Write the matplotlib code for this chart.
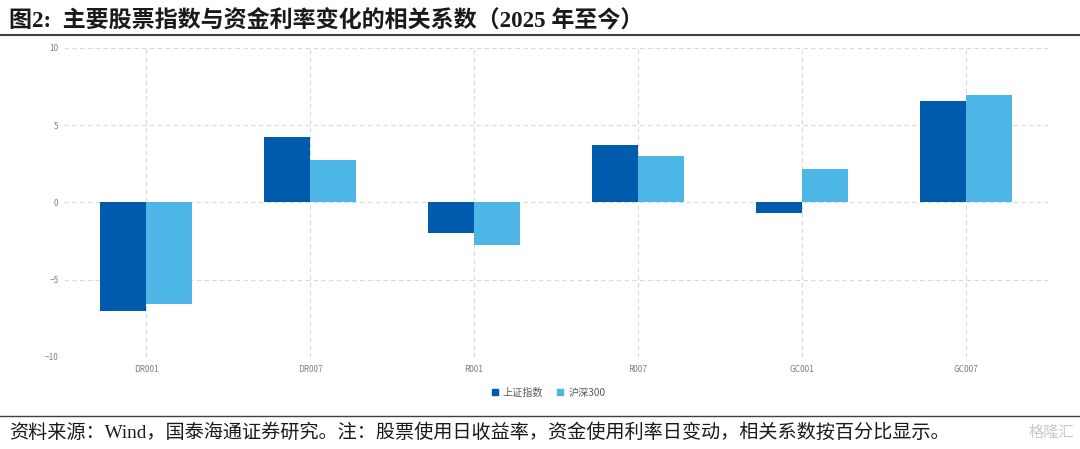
import numpy as np
import matplotlib.pyplot as plt
from matplotlib.lines import Line2D

plt.rcParams['font.family'] = ['Noto Sans CJK SC', 'DejaVu Sans']

# 数据
categorias = ["DR001", "DR007", "R001", "R007", "GC001", "GC007"]
shangzheng = [-7.05, 4.27, -2.0, 3.69, -0.65, 6.54]
hushen300 = [-6.6, 2.72, -2.72, 3.04, 2.14, 6.99]
series_nomes = ["上证指数", "沪深300"]
yticks = [-10, -5, 0, 5, 10]

cor_escura = "#005BAC"
cor_clara = "#4DB6E6"

fig = plt.figure(figsize=(10.8, 4.49), dpi=100)
ax = fig.add_axes([0.0593, 0.2049, 0.9111, 0.6882])

x = np.arange(len(categorias))
largura = 0.283
ax.bar(x - largura / 2, shangzheng, width=largura, color=cor_escura, label=series_nomes[0], zorder=3)
ax.bar(x + largura / 2, hushen300, width=largura, color=cor_clara, label=series_nomes[1], zorder=3)

ax.set_xlim(-0.5, len(categorias) - 0.5)
ax.set_ylim(-10, 10)
ax.set_yticks(yticks)
ax.set_yticklabels([str(v).replace("-", "\u2212") for v in yticks])
ax.set_xticks(x)
ax.set_xticklabels(categorias)
ax.tick_params(length=0, labelsize=6, labelcolor="#7f7f7f")
ax.tick_params(axis="x", pad=5.5)
ax.tick_params(axis="y", pad=4)
for s in ax.spines.values():
    s.set_visible(False)

ax.grid(True, linestyle=(0, (4, 3)), color="#d9d9d9", linewidth=0.8, zorder=0)
ax.yaxis.get_gridlines()[0].set_visible(False)

handles = [Line2D([], [], marker="s", linestyle="", markersize=5, color=cor_escura),
           Line2D([], [], marker="s", linestyle="", markersize=5, color=cor_clara)]
fig.legend(handles, series_nomes, loc="center", bbox_to_anchor=(0.507, 0.125),
           ncol=2, frameon=False, fontsize=7.3, labelcolor="#595959",
           handletextpad=0.3, columnspacing=1.2, handlelength=1.0)

# título e rodapé
fig.text(0.008, 0.953, "图2:  主要股票指数与资金利率变化的相关系数（2025 年至今）",
         fontsize=16.6, fontweight="bold", va="center", ha="left", color="#1a1a1a",
         family=["Liberation Serif", "Noto Sans CJK SC"])
fig.add_artist(Line2D([0, 1], [0.922, 0.922], color="#404040", linewidth=1.5))
fig.add_artist(Line2D([0, 1], [0.0735, 0.0735], color="#404040", linewidth=1.0))
fig.text(0.008, 0.037, "资料来源：Wind，国泰海通证券研究。注：股票使用日收益率，资金使用利率日变动，相关系数按百分比显示。",
         fontsize=13.8, va="center", ha="left", color="#1a1a1a",
         family=["Liberation Serif", "Noto Sans CJK SC"])
fig.text(0.995, 0.037, "格隆汇", fontsize=11, va="center", ha="right", color="#c8c8c8")

fig.savefig("out.png", dpi=100)
